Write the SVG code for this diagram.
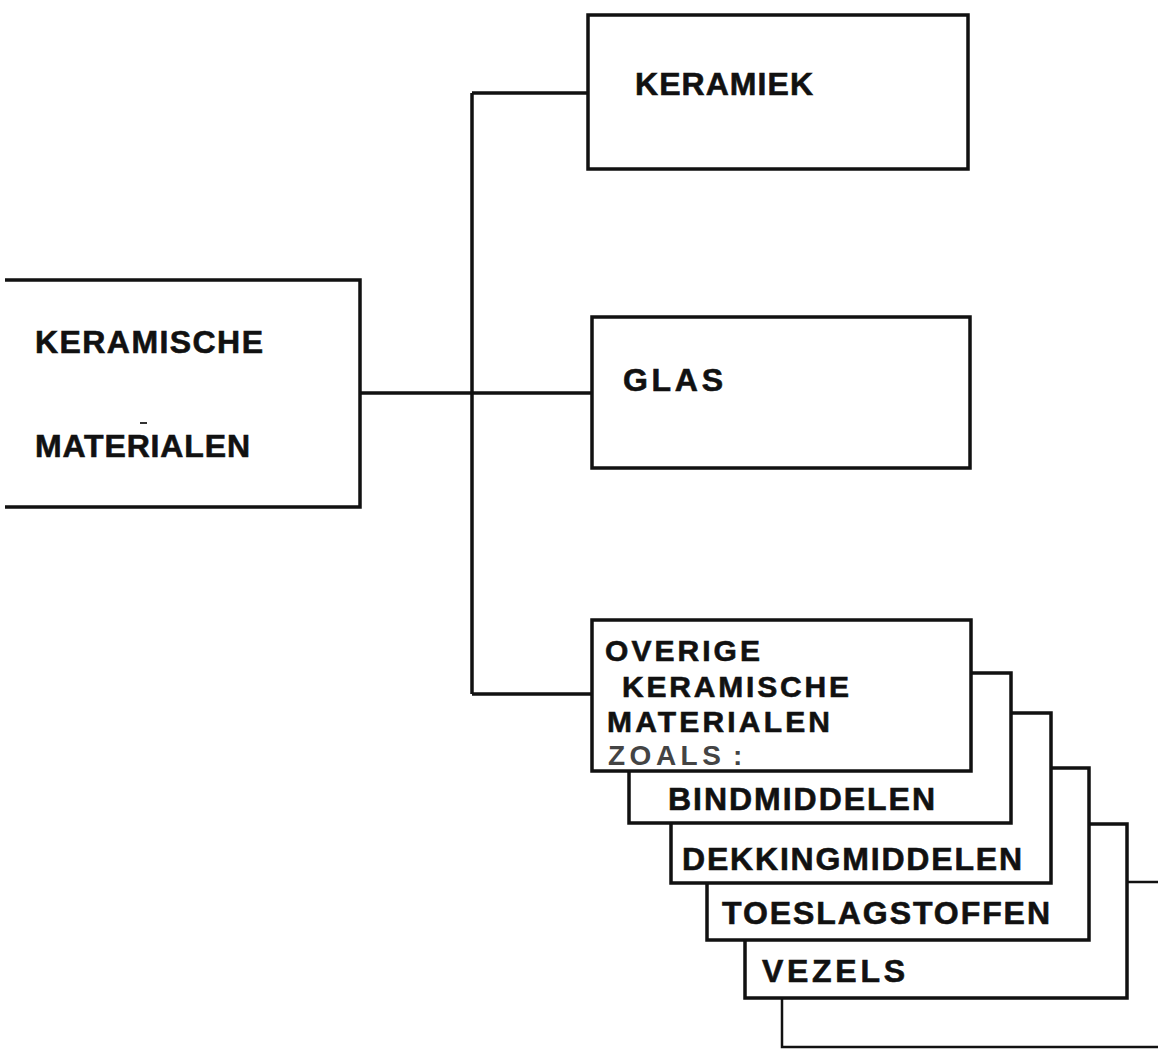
<svg xmlns="http://www.w3.org/2000/svg" width="1158" height="1052" viewBox="0 0 1158 1052">
<style>
.box{fill:#fff;stroke:#111;stroke-width:3.5;stroke-linejoin:miter}
.ln{fill:none;stroke:#111;stroke-width:3.5}
.t{font-family:"Liberation Sans",Arial,sans-serif;font-weight:bold;font-size:32px;fill:#111;stroke:#111;stroke-width:0.6}
.s{font-size:30px}
.tz{font-family:"Liberation Sans",Arial,sans-serif;font-weight:bold;font-size:28px;fill:#444;letter-spacing:4.5px}
</style>
<rect width="1158" height="1052" fill="#fff"/>
<g id="connectors">
<path class="ln" d="M360,393 H592"/>
<path class="ln" d="M472,93 V694"/>
<path class="ln" d="M472,93 H588"/>
<path class="ln" d="M472,694 H592"/>
</g>
<g id="keramische-materialen">
<path class="ln" d="M5,280 H360 V507 H5"/>
<text class="t" x="35" y="353" textLength="228" lengthAdjust="spacing">KERAMISCHE</text>
<text class="t" x="35" y="457" textLength="215" lengthAdjust="spacing">MATERIALEN</text>
<rect x="140" y="422" width="7" height="2" fill="#333"/>
</g>
<g id="keramiek">
<rect class="box" x="588" y="15" width="380" height="154"/>
<text class="t" x="635" y="95" textLength="178" lengthAdjust="spacing">KERAMIEK</text>
</g>
<g id="glas">
<rect class="box" x="592" y="317" width="378" height="151"/>
<text class="t" x="623" y="391" textLength="100" lengthAdjust="spacing">GLAS</text>
</g>
<g id="overig-next">
<rect class="box" x="782" y="882" width="400" height="165" style="stroke-width:2.5"/>
</g>
<g id="vezels">
<rect class="box" x="745" y="824" width="382" height="174"/>
<text class="t" x="762" y="982" textLength="143" lengthAdjust="spacing">VEZELS</text>
</g>
<g id="toeslagstoffen">
<rect class="box" x="707" y="768" width="382" height="172"/>
<text class="t" x="722" y="924" textLength="328" lengthAdjust="spacing">TOESLAGSTOFFEN</text>
</g>
<g id="dekkingmiddelen">
<rect class="box" x="671" y="713" width="380" height="170"/>
<text class="t" x="682" y="870" textLength="340" lengthAdjust="spacing">DEKKINGMIDDELEN</text>
</g>
<g id="bindmiddelen">
<rect class="box" x="629" y="673" width="382" height="150"/>
<text class="t" x="668" y="810" textLength="267" lengthAdjust="spacing">BINDMIDDELEN</text>
</g>
<g id="overige">
<rect class="box" x="592" y="620" width="379" height="151"/>
<text class="t s" x="605" y="661" textLength="155" lengthAdjust="spacing">OVERIGE</text>
<text class="t s" x="622" y="697" textLength="227" lengthAdjust="spacing">KERAMISCHE</text>
<text class="t s" x="607" y="732" textLength="223" lengthAdjust="spacing">MATERIALEN</text>
<text class="tz" x="608" y="765">ZOALS<tspan x="733">:</tspan></text>
</g>
</svg>
